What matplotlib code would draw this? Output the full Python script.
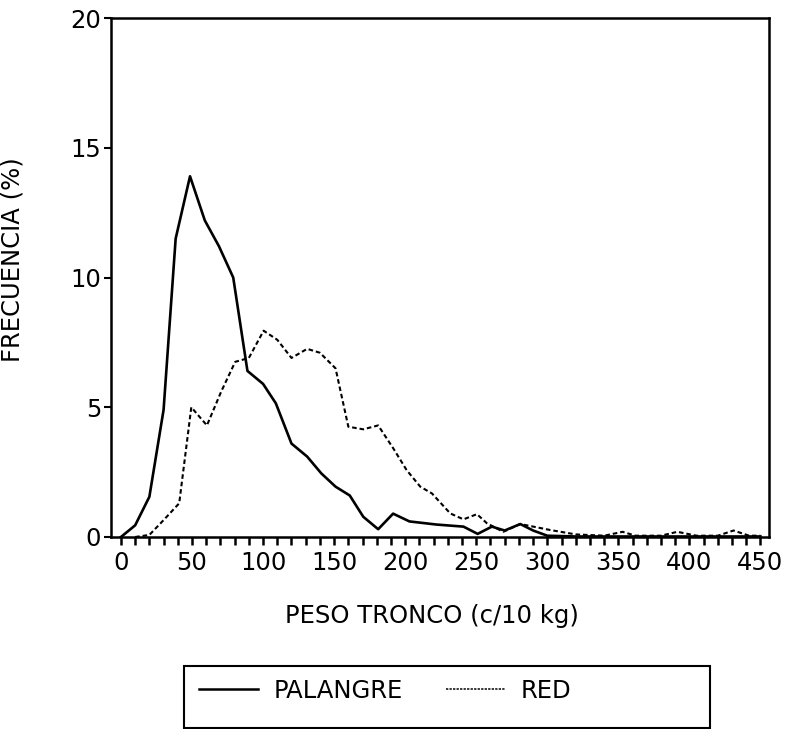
import matplotlib
matplotlib.use("Agg")
import matplotlib.pyplot as plt
from matplotlib.patches import Rectangle
from matplotlib.lines import Line2D
from matplotlib.ticker import MultipleLocator

plt.rcParams['font.family'] = ['DejaVu Sans']

# PALANGRE (solid)
pal_x = [0, 10, 20, 30, 38.5, 48.6, 59, 69, 79, 89, 100, 109, 120, 131, 141, 151,
         161, 170.5, 181, 191.5, 203, 222, 241, 251, 261, 270, 281, 290, 300,
         320, 350, 400, 450]
pal_y = [0, 0.45, 1.55, 4.9, 11.5, 13.9, 12.2, 11.2, 10.0, 6.4, 5.9, 5.15, 3.6, 3.1,
         2.45, 1.94, 1.6, 0.78, 0.3, 0.9, 0.6, 0.48, 0.4, 0.12, 0.4, 0.25, 0.5, 0.25,
         0.05, 0.02, 0.02, 0.02, 0.02]

# RED (dashed)
red_x = [10, 20, 30, 41, 49.5, 60.5, 70.5, 80.4, 90, 100.4, 110, 120, 131, 140, 151,
         160, 170.5, 181, 191.8, 201, 210.6, 218.8, 231.7, 241, 250.5, 257.5, 269,
         281, 302, 320, 340, 353, 362, 380, 391.5, 405, 420, 431, 442, 450]
red_y = [0, 0.08, 0.65, 1.3, 5.0, 4.3, 5.6, 6.75, 6.9, 7.95, 7.6, 6.9, 7.25, 7.1, 6.5,
         4.25, 4.15, 4.3, 3.4, 2.58, 1.94, 1.68, 0.91, 0.68, 0.88, 0.53, 0.2,
         0.5, 0.27, 0.1, 0.05, 0.2, 0.05, 0.05, 0.2, 0.05, 0.05, 0.25, 0.05, 0.05]

x_ticks = [0, 50, 100, 150, 200, 250, 300, 350, 400, 450]
y_ticks = [0, 5, 10, 15, 20]

W, H = 793, 729
fig = plt.figure(figsize=(W / 100, H / 100), dpi=100)
ax = fig.add_axes([111 / W, 1 - 537 / H, (769 - 111) / W, (537 - 18) / H])

ax.plot(pal_x, pal_y, color='black', lw=1.9, solid_joinstyle='round')
ax.plot(red_x, red_y, color='black', lw=1.5, linestyle=(0, (2.2, 1.4)))

ax.set_xlim(-7, 456)
ax.set_ylim(0, 20)
ax.set_xticks(x_ticks)
ax.set_yticks(y_ticks)
ax.xaxis.set_minor_locator(MultipleLocator(10))
ax.tick_params(axis='x', which='both', direction='out', length=6, width=1.8,
               labelsize=17.5, pad=4)
ax.tick_params(axis='y', which='major', direction='out', length=5, width=1.5,
               labelsize=17.5, pad=2)
for s in ax.spines.values():
    s.set_linewidth(1.8)

ax.set_xlabel('PESO TRONCO (c/10 kg)', fontsize=17.5)
ax.set_ylabel('FRECUENCIA (%)', fontsize=17.5)
ax.xaxis.set_label_coords(0.488, -0.129)
ax.yaxis.set_label_coords(-0.132, 0.535)

# Legend box
rect = Rectangle((184 / W, 1 - 728 / H), (710 - 184) / W, (728 - 666) / H,
                 transform=fig.transFigure, fill=False, edgecolor='black', lw=1.5)
fig.add_artist(rect)
handles = [Line2D([], [], color='black', lw=1.8),
           Line2D([], [], color='black', lw=1.1, linestyle=(0, (1.5, 0.8)))]
fig.legend(handles, ['PALANGRE', 'RED'], ncol=2, loc='center left',
           bbox_to_anchor=(177 / W, 1 - 691 / H), frameon=False, fontsize=17.5,
           handlelength=2.43, handletextpad=0.66, columnspacing=1.75)

fig.savefig('out.png', dpi=100)
